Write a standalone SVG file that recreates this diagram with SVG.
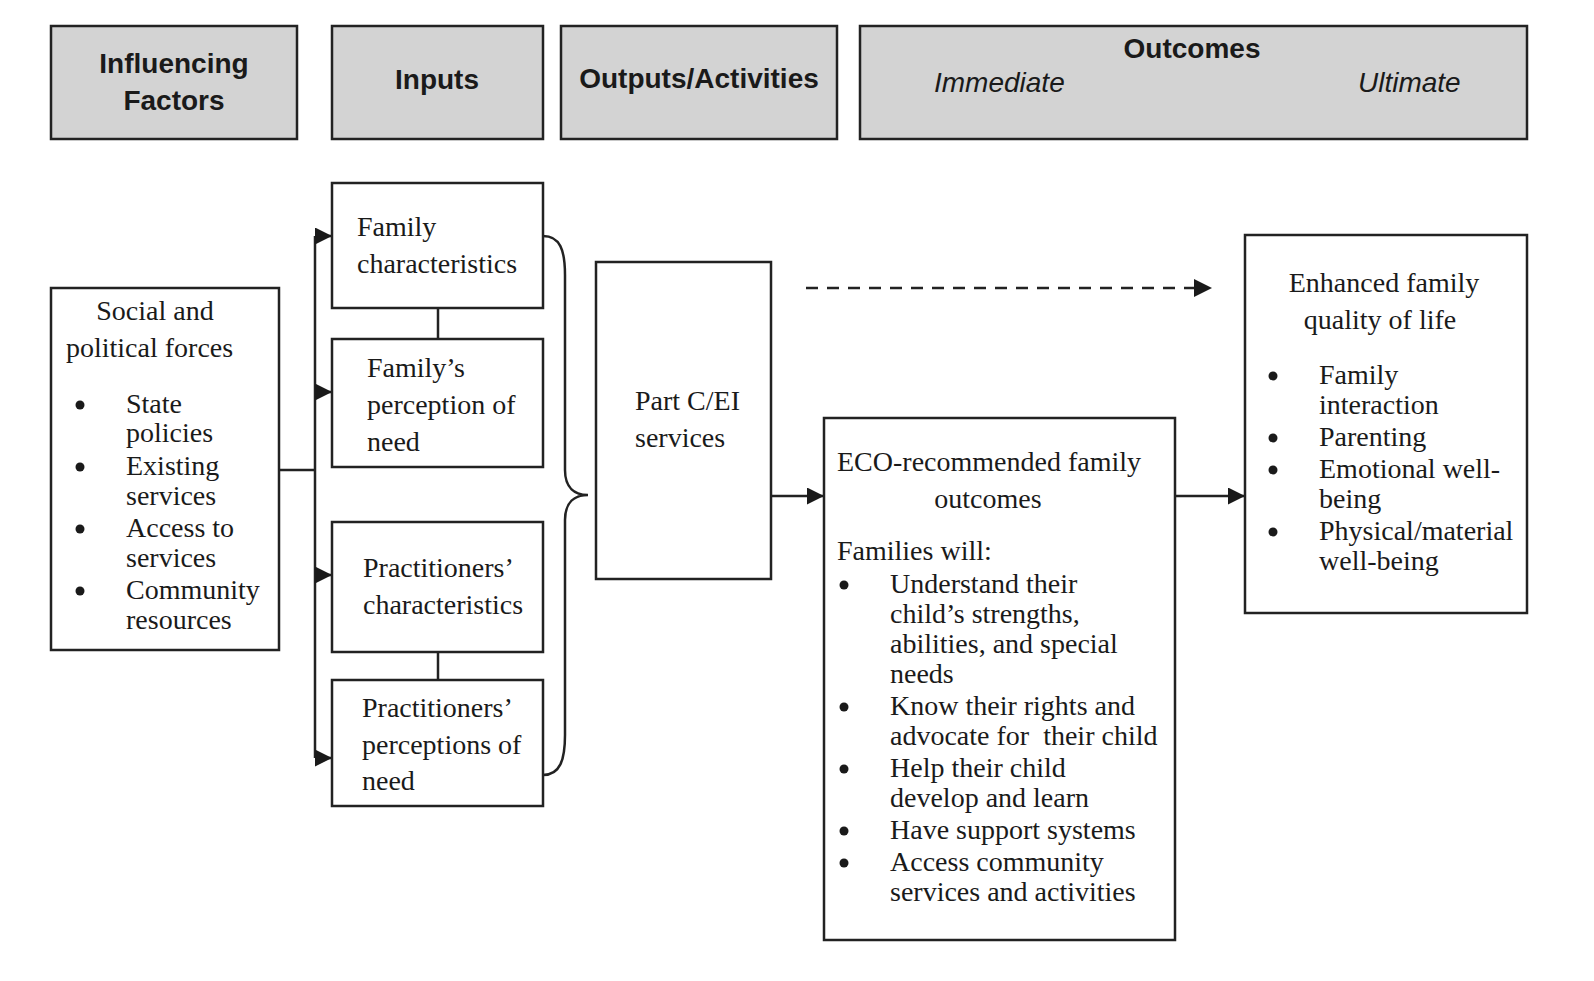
<svg xmlns="http://www.w3.org/2000/svg" width="1594" height="981" viewBox="0 0 1594 981">
<defs>
<style>
.hdr{fill:#d3d3d3;stroke:#222;stroke-width:2.5}
.box{fill:#fff;stroke:#222;stroke-width:2.5}
.h{font-family:"Liberation Sans",Arial,sans-serif;font-weight:bold;font-size:28px;fill:#1a1a1a}
.hi{font-family:"Liberation Sans",Arial,sans-serif;font-style:italic;font-size:28px;fill:#1a1a1a}
.t{font-family:"Liberation Serif","Times New Roman",serif;font-size:28px;fill:#1a1a1a}
.ln{fill:none;stroke:#222;stroke-width:2.5}
.bul{fill:#1a1a1a}
</style>
<marker id="ah" viewBox="0 0 10 10" refX="10" refY="5" markerWidth="17" markerHeight="17" markerUnits="userSpaceOnUse" orient="auto">
<path d="M0,0 L10,5 L0,10 Z" fill="#1a1a1a"/>
</marker>
</defs>
<rect width="1594" height="981" fill="#fff"/>

<g id="hdr-influencing">
<rect class="hdr" x="51" y="26" width="246" height="113"/>
<text class="h" x="174" y="73" text-anchor="middle">Influencing</text>
<text class="h" x="174" y="110" text-anchor="middle">Factors</text>
</g>
<g id="hdr-inputs">
<rect class="hdr" x="332" y="26" width="211" height="113"/>
<text class="h" x="437" y="89" text-anchor="middle">Inputs</text>
</g>
<g id="hdr-outputs">
<rect class="hdr" x="561" y="26" width="276" height="113"/>
<text class="h" x="699" y="88" text-anchor="middle">Outputs/Activities</text>
</g>
<g id="hdr-outcomes">
<rect class="hdr" x="860" y="26" width="667" height="113"/>
<text class="h" x="1192" y="58" text-anchor="middle">Outcomes</text>
<text class="hi" x="934" y="92">Immediate</text>
<text class="hi" x="1358" y="92">Ultimate</text>
</g>

<g id="connectors">
<path class="ln" d="M279,470 H315"/>
<path class="ln" d="M315,236 V758"/>
<path class="ln" d="M315,236 H332" marker-end="url(#ah)"/>
<path class="ln" d="M315,392 H332" marker-end="url(#ah)"/>
<path class="ln" d="M315,575 H332" marker-end="url(#ah)"/>
<path class="ln" d="M315,758 H332" marker-end="url(#ah)"/>
<path class="ln" d="M438,308 V339"/>
<path class="ln" d="M438,652 V680"/>
<path class="ln" d="M543,236 C560,236 565,250 565,275 L565,470 C565,488 575,495 588,495 C575,495 565,502 565,520 L565,735 C565,760 560,775 543,775"/>
<path class="ln" d="M771,496 H824" marker-end="url(#ah)"/>
<path class="ln" d="M1175,496 H1245" marker-end="url(#ah)"/>
<path class="ln" d="M806,288 H1195" stroke-width="3" stroke-dasharray="12,9"/>
<path d="M1194,279 L1212,288 L1194,297 Z" fill="#1a1a1a"/>
</g>

<g id="social">
<rect class="box" x="51" y="288" width="228" height="362"/>
<text class="t" x="155" y="320" text-anchor="middle">Social and</text>
<text class="t" x="66" y="357">political forces</text>
<circle class="bul" cx="80" cy="405" r="4.5"/>
<circle class="bul" cx="80" cy="467" r="4.5"/>
<circle class="bul" cx="80" cy="529" r="4.5"/>
<circle class="bul" cx="80" cy="591" r="4.5"/>
<text class="t" x="126" y="413">State</text>
<text class="t" x="126" y="442">policies</text>
<text class="t" x="126" y="475">Existing</text>
<text class="t" x="126" y="505">services</text>
<text class="t" x="126" y="537">Access to</text>
<text class="t" x="126" y="567">services</text>
<text class="t" x="126" y="599">Community</text>
<text class="t" x="126" y="629">resources</text>
</g>

<g id="family-char">
<rect class="box" x="332" y="183" width="211" height="125"/>
<text class="t" x="357" y="236">Family</text>
<text class="t" x="357" y="273">characteristics</text>
</g>
<g id="family-need">
<rect class="box" x="332" y="339" width="211" height="128"/>
<text class="t" x="367" y="377">Family’s</text>
<text class="t" x="367" y="414">perception of</text>
<text class="t" x="367" y="451">need</text>
</g>
<g id="pract-char">
<rect class="box" x="332" y="522" width="211" height="130"/>
<text class="t" x="363" y="577">Practitioners’</text>
<text class="t" x="363" y="614">characteristics</text>
</g>
<g id="pract-need">
<rect class="box" x="332" y="680" width="211" height="126"/>
<text class="t" x="362" y="717">Practitioners’</text>
<text class="t" x="362" y="754">perceptions of</text>
<text class="t" x="362" y="790">need</text>
</g>

<g id="partc">
<rect class="box" x="596" y="262" width="175" height="317"/>
<text class="t" x="635" y="410">Part C/EI</text>
<text class="t" x="635" y="447">services</text>
</g>

<g id="eco">
<rect class="box" x="824" y="418" width="351" height="522"/>
<text class="t" x="837" y="471">ECO-recommended family</text>
<text class="t" x="988" y="508" text-anchor="middle">outcomes</text>
<text class="t" x="837" y="560">Families will:</text>
<circle class="bul" cx="844" cy="585" r="4.5"/>
<circle class="bul" cx="844" cy="707" r="4.5"/>
<circle class="bul" cx="844" cy="769" r="4.5"/>
<circle class="bul" cx="844" cy="831" r="4.5"/>
<circle class="bul" cx="844" cy="863" r="4.5"/>
<text class="t" x="890" y="593">Understand their</text>
<text class="t" x="890" y="623">child’s strengths,</text>
<text class="t" x="890" y="653">abilities, and special</text>
<text class="t" x="890" y="683">needs</text>
<text class="t" x="890" y="715">Know their rights and</text>
<text class="t" x="890" y="745" xml:space="preserve">advocate for  their child</text>
<text class="t" x="890" y="777">Help their child</text>
<text class="t" x="890" y="807">develop and learn</text>
<text class="t" x="890" y="839">Have support systems</text>
<text class="t" x="890" y="871">Access community</text>
<text class="t" x="890" y="901">services and activities</text>
</g>

<g id="qol">
<rect class="box" x="1245" y="235" width="282" height="378"/>
<text class="t" x="1384" y="292" text-anchor="middle">Enhanced family</text>
<text class="t" x="1380" y="329" text-anchor="middle">quality of life</text>
<circle class="bul" cx="1273" cy="376" r="4.5"/>
<circle class="bul" cx="1273" cy="438" r="4.5"/>
<circle class="bul" cx="1273" cy="470" r="4.5"/>
<circle class="bul" cx="1273" cy="532" r="4.5"/>
<text class="t" x="1319" y="384">Family</text>
<text class="t" x="1319" y="414">interaction</text>
<text class="t" x="1319" y="446">Parenting</text>
<text class="t" x="1319" y="478">Emotional well-</text>
<text class="t" x="1319" y="508">being</text>
<text class="t" x="1319" y="540">Physical/material</text>
<text class="t" x="1319" y="570">well-being</text>
</g>
</svg>
